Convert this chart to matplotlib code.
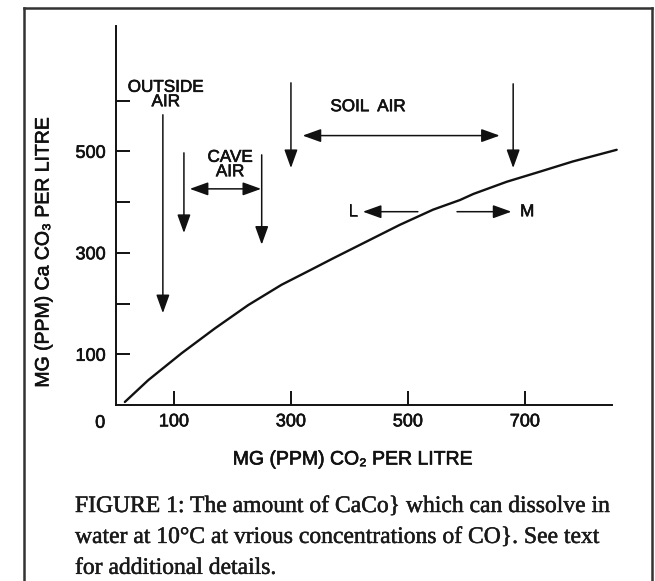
import matplotlib
matplotlib.use("Agg")
import matplotlib.pyplot as plt
from matplotlib.lines import Line2D
import matplotlib.patheffects as pe

# ---- data ----
co2_ppm = [16, 56, 113, 170, 227, 284, 335, 372, 429, 486, 543, 589, 612, 669, 726, 782, 857]
caco3_ppm = [6, 49, 102, 151, 197, 237, 267, 289, 322, 355, 385, 404, 416, 440, 460, 480, 503]

x_ticks = [100, 300, 500, 700]
x_tick_labels = ["100", "300", "500", "700"]
y_ticks = [100, 200, 300, 400, 500, 600]
y_tick_labels = ["100", "", "300", "", "500", ""]

# vertical arrows: (x, y_start, y_end)
down_arrows = [(81, 572, 181), (117, 497, 339), (250, 493, 316), (300, 635, 467), (680, 633, 467)]
# double-headed horizontal ranges: (y, x_left, x_right)
range_arrows = [(426, 127, 249), (531, 320, 657)]
# single horizontal arrows: (y, x_from, x_to)
side_arrows = [(381, 517, 423), (381, 584, 677)]
# labels: (text, x, y)
labels = [("OUTSIDE\nAIR", 86, 612), ("CAVE\nAIR", 196, 474), ("SOIL  AIR", 432, 588),
          ("L", 406, 381), ("M", 704, 381)]

x_label = "MG (PPM) CO\u2082 PER LITRE"
y_label = "MG (PPM) Ca CO\u2083 PER LITRE"
caption = ("FIGURE 1: The amount of CaCo} which can dissolve in\n"
           "water at 10\u00b0C at vrious concentrations of CO}. See text\n"
           "for additional details.")

SANS = ["Liberation Sans", "DejaVu Sans"]
plt.rcParams["font.family"] = SANS
heavy = [pe.withStroke(linewidth=0.45, foreground="#111111")]

W, H = 655, 581
fig = plt.figure(figsize=(W / 100, H / 100), dpi=100)
ax = fig.add_axes([115.5 / W, 1 - 405 / H, (612 - 115.5) / W, (405 - 26) / H])

ax.plot(co2_ppm, caco3_ppm, color="#111111", lw=1.7, clip_on=False,
        solid_capstyle="round", solid_joinstyle="round")

ax.set_xlim(0, 849)
ax.set_ylim(0, 747)
for s in ["top", "right"]:
    ax.spines[s].set_visible(False)
for s in ["left", "bottom"]:
    ax.spines[s].set_linewidth(1.4)
    ax.spines[s].set_color("#111111")

ax.set_xticks(x_ticks)
ax.set_xticklabels(x_tick_labels)
ax.set_yticks(y_ticks)
ax.set_yticklabels(y_tick_labels)
ax.tick_params(direction="in", length=10, width=1.4, color="#111111", labelsize=13,
               labelcolor="#111111")
ax.tick_params(axis="x", pad=6)
ax.tick_params(axis="y", pad=7)
for lab in ax.get_xticklabels() + ax.get_yticklabels():
    lab.set_path_effects(heavy)
ax.annotate("0", xy=(0, 0), xytext=(-11, -7), textcoords="offset points",
            ha="center", va="top", fontsize=13, annotation_clip=False,
            color="#111111", path_effects=heavy)

xl = ax.set_xlabel(x_label, fontsize=14, color="#111111", path_effects=heavy)
yl = ax.set_ylabel(y_label, fontsize=14, color="#111111", path_effects=heavy)
ax.xaxis.set_label_coords((353 - 115.5) / 496.5, (405 - 460) / 379)
ax.yaxis.set_label_coords((44 - 115.5) / 496.5, (405 - 252) / 379)
xl.set_va("center")
yl.set_va("center")

head = dict(color="#111111", lw=1.1, shrinkA=0, shrinkB=0, mutation_scale=15)
for x, y0, y1 in down_arrows:
    ax.annotate("", xy=(x, y1), xytext=(x, y0), arrowprops=dict(arrowstyle="-|>,head_length=0.75,head_width=0.27", **head))
for y, x0, x1 in range_arrows:
    ax.annotate("", xy=(x1, y), xytext=(x0, y), arrowprops=dict(arrowstyle="<|-|>,head_length=0.75,head_width=0.27", **head))
for y, x0, x1 in side_arrows:
    ax.annotate("", xy=(x1, y), xytext=(x0, y), arrowprops=dict(arrowstyle="-|>,head_length=0.75,head_width=0.27", **head))
for t, x, y in labels:
    ax.text(x, y, t, ha="center", va="center", fontsize=12.3, linespacing=0.95,
            color="#111111", path_effects=heavy)

fig.text(75 / W, 1 - 496 / H, caption, ha="left", va="top", fontsize=17,
         family=["Liberation Serif", "DejaVu Serif"], linespacing=1.62, color="#1a1a1a",
         path_effects=[pe.withStroke(linewidth=0.35, foreground="#1a1a1a")])

# page frame
fc = "#333333"
fig.add_artist(Line2D([24 / W, 24 / W], [0, 1 - 8 / H], transform=fig.transFigure, color=fc, lw=1.8))
fig.add_artist(Line2D([24 / W, 652 / W], [1 - 8 / H, 1 - 8 / H], transform=fig.transFigure, color=fc, lw=1.8))
fig.add_artist(Line2D([652 / W, 652 / W], [0, 1 - 8 / H], transform=fig.transFigure, color=fc, lw=1.8))

fig.savefig("out.png", dpi=100)
